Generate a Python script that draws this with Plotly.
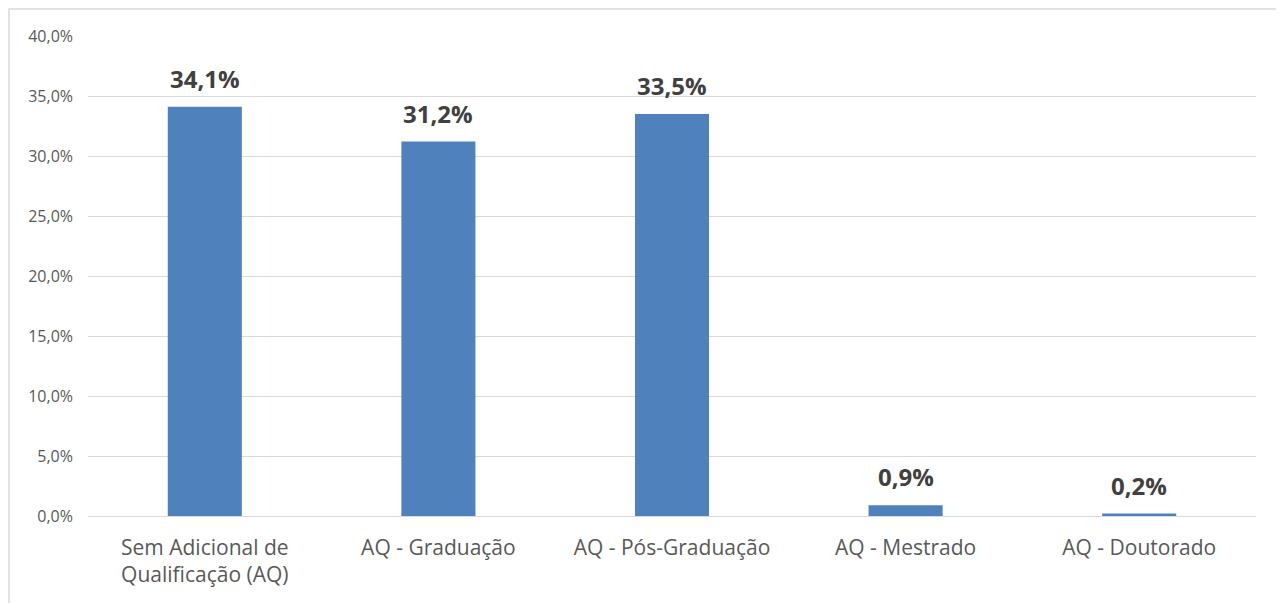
import plotly.graph_objects as go

categories = ["Sem Adicional de<br>Qualificação (AQ)", "AQ - Graduação", "AQ - Pós-Graduação",
              "AQ - Mestrado", "AQ - Doutorado"]
values = [34.1, 31.2, 33.5, 0.9, 0.2]
y_ticks = [0, 5, 10, 15, 20, 25, 30, 35, 40]
y_tick_text = [f"{t:.1f}".replace(".", ",") + "%" for t in y_ticks]

OFF = 8  # page body margin
W, H = 1284 - OFF, 603 - OFF
L, T = 88 - OFF, 36 - OFF
pw, ph = 1256 - 88, 516 - 36
R, B = W - L - pw, H - T - ph

fig = go.Figure()
fig.add_trace(go.Bar(
    x=categories, y=values,
    marker=dict(color="#4F81BD", line=dict(width=0)),
    hoverinfo="skip",
))

for c, v in zip(categories, values):
    fig.add_annotation(
        x=c, y=v, text="<b>" + f"{v:.1f}".replace(".", ",") + "%</b>",
        showarrow=False, yanchor="bottom", yshift=10,
        font=dict(family="Open Sans", size=24, color="#404040"),
    )

# outer chart border (partially outside window)
bx0, by0 = 1, 1
fig.add_shape(
    type="rect", xref="paper", yref="paper",
    x0=(bx0 - L) / pw, x1=(W + 20 - L) / pw,
    y0=-(H + 20 - T - ph) / ph, y1=(T - by0 + ph) / ph,
    line=dict(color="#D9D9D9", width=1.5), fillcolor="rgba(0,0,0,0)", layer="below",
)

fig.update_layout(
    width=W, height=H,
    margin=dict(l=L, r=R, t=T, b=B, pad=0),
    paper_bgcolor="white", plot_bgcolor="white",
    separators=",.",
    bargap=0.683,
    showlegend=False,
    font=dict(family="Open Sans", color="#595959"),
    xaxis=dict(
        showgrid=False, showline=False, ticks="",
        tickfont=dict(size=21, color="#595959"),
        ticklabelstandoff=17,
    ),
    yaxis=dict(
        range=[0, 40], tickvals=y_ticks, ticktext=y_tick_text,
        showgrid=True, gridcolor="#D9D9D9", gridwidth=1,
        zeroline=True, zerolinecolor="#D9D9D9", zerolinewidth=1,
        showline=False, ticks="",
        tickfont=dict(size=16, color="#595959"),
        ticklabelstandoff=14,
    ),
)

fig.write_html("out.html")
